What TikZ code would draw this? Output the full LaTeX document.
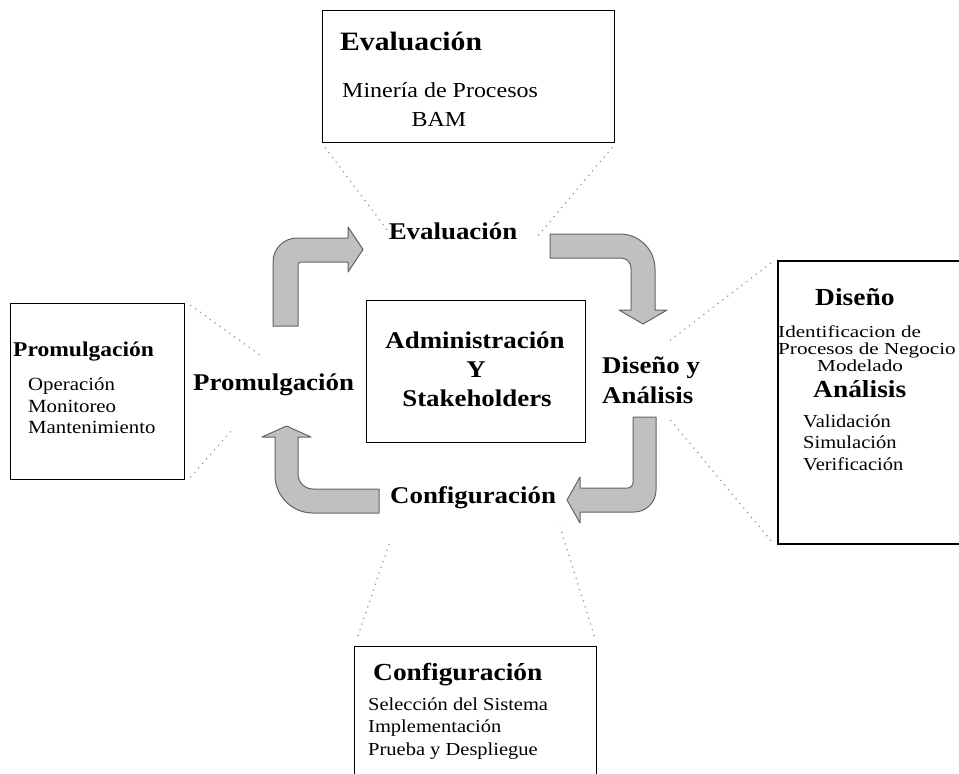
\documentclass[tikz,border=0pt]{standalone}
\usepackage{fontspec}
\setmainfont{Liberation Serif}[FakeStretch=1.12]
\newfontfamily\widefont{Liberation Serif}[FakeStretch=1.26]
\definecolor{arrowfill}{RGB}{192,192,192}
\definecolor{arrowline}{RGB}{100,100,100}
\definecolor{dotline}{RGB}{150,150,150}
\begin{document}
\begin{tikzpicture}[x=1pt,y=-1pt,
  box/.style={draw=black, line width=1.3pt, fill=white, inner sep=0pt,
    anchor=north west, rectangle},
  lbl/.style={inner sep=0pt, anchor=base west},
  lblc/.style={inner sep=0pt, anchor=base},
  big/.style={font=\bfseries\fontsize{24}{28}\selectfont},
  title/.style={font=\bfseries\fontsize{#1}{#1}\selectfont},
  item/.style={font=\fontsize{#1}{#1}\selectfont},
  widerow/.style={font=\widefont\fontsize{#1}{#1}\selectfont},
  bent/.style={fill=arrowfill, draw=arrowline, line width=1pt, line join=round},
  leader/.style={draw=dotline, line width=1.2pt, dash pattern=on 1.2pt off 4.8pt}
]
\useasboundingbox (0,0) rectangle (959,774);
\fill[white] (0,0) rectangle (959,774);

% ---- detail boxes ----
\node[box, minimum width=292pt, minimum height=132pt] (evalbox) at (322,10) {};
\node[box, minimum width=174pt, minimum height=176pt] (promobox) at (10,303) {};
\node[box, minimum width=219pt, minimum height=142pt] (centerbox) at (366,300) {};
\node[box, line width=1.8pt, minimum width=190pt, minimum height=283pt] (disbox) at (777,260) {};
\node[box, minimum width=242pt, minimum height=140pt] (confbox) at (354,646) {};

% ---- end points of the dotted leaders ----
\coordinate (evalL) at (388,231);
\coordinate (evalR) at (537,237);
\coordinate (promU) at (260,355);
\coordinate (promD) at (232,430);
\coordinate (disU) at (668,342);
\coordinate (disD) at (668,417);
\coordinate (confL) at (389,544);
\coordinate (confR) at (560,527);

\draw[leader] (evalbox.south west) ++(3,4) -- (evalL);
\draw[leader] (evalbox.south east) ++(-3,4) -- (evalR);
\draw[leader] (promobox.north east) ++(5,2) -- (promU);
\draw[leader] (promobox.south east) ++(5,-3) -- (promD);
\draw[leader] (disbox.north west) ++(-6,3) -- (disU);
\draw[leader] (disbox.south west) ++(-6,-4) -- (disD);
\draw[leader] (confbox.north west) ++(4,-10) -- (confL);
\draw[leader] (confbox.north east) ++(-3,-10) -- (confR);

% ---- bent cycle arrows ----
% up, then right
\path[bent] (273,326) -- (273,262) .. controls (273,248.7) and (283.7,238) .. (297,238)
  -- (348,238) -- (348,227) -- (363,249.5) -- (348,272) -- (348,262) -- (301,262)
  .. controls (299.3,262) and (298,263.3) .. (298,265) -- (298,326) -- cycle;
% right, then down
\path[bent] (550,234) -- (620,234) .. controls (639.3,234) and (655,249.7) .. (655,269)
  -- (655,310) -- (667,310) -- (643,324) -- (619,310) -- (631,310) -- (631,268)
  .. controls (631,262.5) and (626.5,258) .. (621,258) -- (550,258) -- cycle;
% down, then left
\path[bent] (633,417) -- (656,417) -- (656,490) .. controls (656,502.2) and (646.2,512) .. (634,512)
  -- (580,512) -- (580,523) -- (567,500) -- (580,477) -- (580,488) -- (628,488)
  .. controls (630.8,488) and (633,485.8) .. (633,483) -- cycle;
% left, then up
\path[bent] (379,489) -- (313,489) .. controls (304.7,489) and (298,482.3) .. (298,474)
  -- (298,437) -- (311,437) -- (286.5,426) -- (262,437) -- (275,437) -- (275,475)
  .. controls (275,496) and (292,513) .. (313,513) -- (379,513) -- cycle;

% ---- cycle stage labels ----
\node[lblc, big] (stEval) at (453,239) {Evaluación};
\node[lbl, big] (stProm) at (193,390) {Promulgación};
\node[lbl, big] (stDis1) at (602,373) {Diseño y};
\node[lbl, big] (stDis2) at (602,403) {Análisis};
\node[lbl, big] (stConf) at (390,503) {Configuración};

% ---- centre box text ----
\node[lblc, big] (cAdm) at (475,348) {Administración};
\node[lblc, big] (cY) at (476,377) {Y};
\node[lblc, big] (cSta) at (477,406) {Stakeholders};

% ---- Evaluación box ----
\node[lbl, title=26.5] (eT) at (340,50) {Evaluación};
\node[lbl, item=21.4] (e1) at (342,97) {Minería de Procesos};
\node[lblc, item=21.4] (e2) at (439,126) {BAM};

% ---- Promulgación box ----
\node[lbl, title=21] (pT) at (13,356) {Promulgación};
\node[lbl, item=18.6] (p1) at (28,390) {Operación};
\node[lbl, item=18.6] (p2) at (28,412) {Monitoreo};
\node[lbl, item=18.6] (p3) at (28,433) {Mantenimiento};

% ---- Diseño / Análisis box ----
\node[lbl, title=24.5] (dT) at (815,305) {Diseño};
\node[lbl, widerow=16.8] (d1) at (778,337) {Identificacion de};
\node[lbl, widerow=16.8] (d2) at (778,354) {Procesos de Negocio};
\node[lbl, widerow=16.8] (d3) at (817,371) {Modelado};
\node[lbl, title=24.5] (aT) at (813,397) {Análisis};
\node[lbl, item=18.3] (a1) at (803,427) {Validación};
\node[lbl, item=18.3] (a2) at (803,448) {Simulación};
\node[lbl, item=18.3] (a3) at (803,470) {Verificación};

% ---- Configuración box ----
\node[lbl, title=24.5] (kT) at (373,680) {Configuración};
\node[lbl, item=18.3] (k1) at (368,710) {Selección del Sistema};
\node[lbl, item=18.3] (k2) at (368,732) {Implementación};
\node[lbl, item=18.3] (k3) at (368,755) {Prueba y Despliegue};
\end{tikzpicture}
\end{document}
